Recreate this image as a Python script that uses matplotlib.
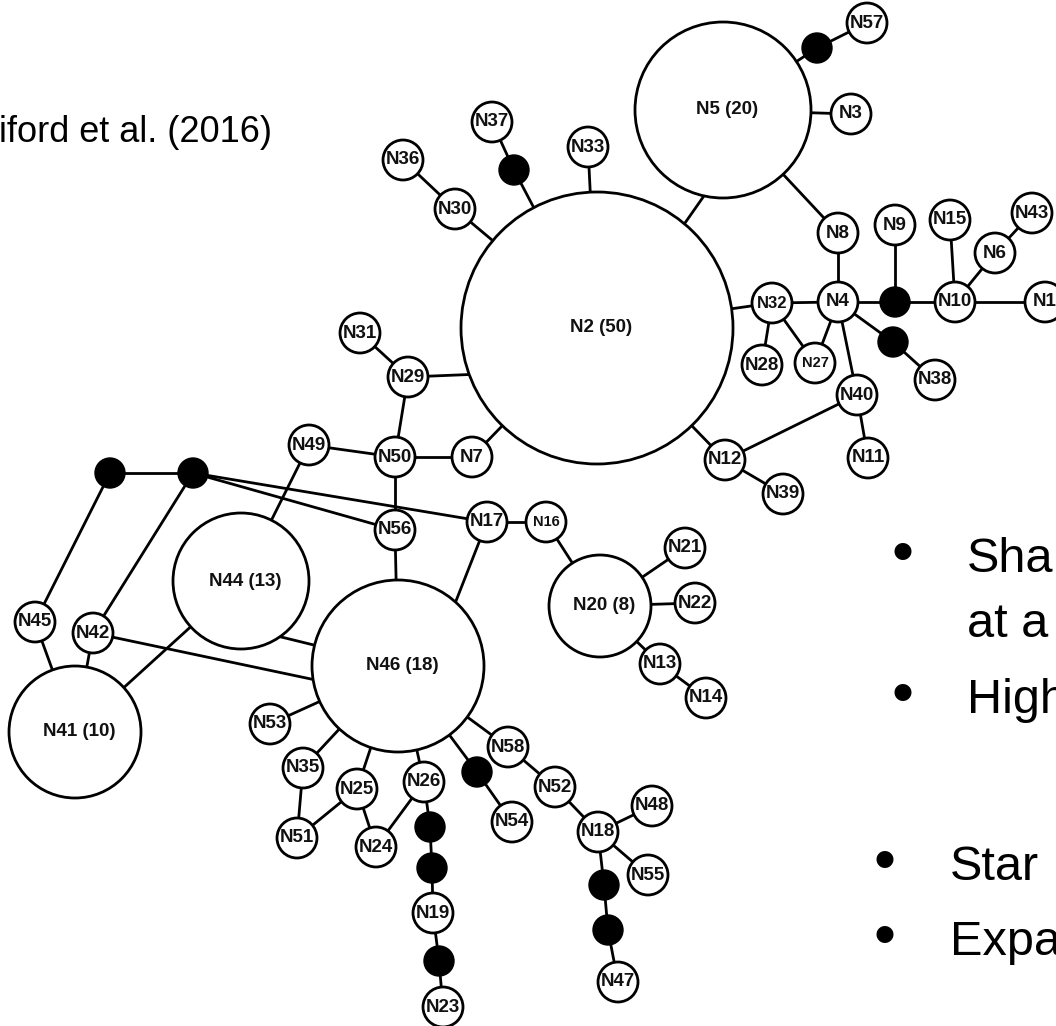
import matplotlib
matplotlib.use('Agg')
import matplotlib.pyplot as plt
from matplotlib.patches import Circle
import numpy as np

plt.rcParams['font.family'] = ['Liberation Sans', 'DejaVu Sans']

# ---- data: haplotype network (pixel layout of the figure) ----
big_names = ['N2', 'N5', 'N46', 'N44', 'N41', 'N20']
big_count = [50, 20, 18, 13, 10, 8]
big_x = [597, 723, 398, 241, 75, 600]
big_y = [328, 110, 666, 581, 732, 606]
big_r = [136, 88, 86, 68, 66, 51]

small_names = ['N1', 'N3', 'N4', 'N6', 'N7', 'N8', 'N9', 'N10', 'N11', 'N12',
               'N13', 'N14', 'N15', 'N16', 'N17', 'N18', 'N19', 'N21', 'N22', 'N23',
               'N24', 'N25', 'N26', 'N27', 'N28', 'N29', 'N30', 'N31', 'N32', 'N33',
               'N35', 'N36', 'N37', 'N38', 'N39', 'N40', 'N42', 'N43', 'N45', 'N47',
               'N48', 'N49', 'N50', 'N51', 'N52', 'N53', 'N54', 'N55', 'N56', 'N57',
               'N58']
small_x = [1045, 851, 838, 995, 472, 838, 895, 955, 868, 725,
           660, 706, 950, 546, 487, 598, 433, 685, 695, 443,
           376, 357, 424, 815, 762, 408, 455, 360, 772, 588,
           303, 403, 492, 935, 783, 857, 93, 1032, 35, 618,
           652, 309, 395, 297, 555, 270, 512, 648, 395, 867,
           508]
small_y = [302, 114, 302, 253, 457, 233, 225, 302, 458, 460,
           664, 698, 220, 522, 522, 832, 913, 548, 603, 1007,
           847, 789, 782, 363, 365, 377, 209, 333, 303, 147,
           768, 160, 122, 380, 494, 395, 633, 213, 622, 982,
           806, 445, 457, 838, 787, 724, 822, 875, 530, 23,
           747]
small_label_size = {'N27': 10.5, 'N16': 10.5, 'N32': 12}

mv_names = ['mv1', 'mv2', 'mv3', 'mv4', 'mv5', 'mv6', 'mv7', 'mv8', 'mv9', 'mv10', 'mv11', 'mv12']
mv_x = [817, 514, 895, 893, 110, 193, 477, 430, 432, 439, 604, 608]
mv_y = [48, 170, 302, 342, 473, 473, 772, 827, 868, 961, 885, 930]

edges = [
    ('N5', 'N2'), ('N5', 'mv1'), ('mv1', 'N57'), ('N5', 'N3'), ('N5', 'N8'),
    ('N2', 'mv2'), ('mv2', 'N37'), ('N2', 'N33'), ('N2', 'N30'), ('N30', 'N36'),
    ('N2', 'N29'), ('N2', 'N7'), ('N2', 'N12'), ('N2', 'N32'),
    ('N8', 'N4'), ('N32', 'N4'), ('N32', 'N28'), ('N32', 'N27'), ('N4', 'N27'),
    ('N4', 'N40'), ('N4', 'mv3'), ('mv3', 'N9'), ('mv3', 'N10'), ('N10', 'N15'),
    ('N10', 'N6'), ('N6', 'N43'), ('N10', 'N1'), ('N4', 'mv4'), ('mv4', 'N38'),
    ('N40', 'N12'), ('N40', 'N11'), ('N12', 'N39'),
    ('N29', 'N31'), ('N29', 'N50'), ('N49', 'N50'), ('N50', 'N7'), ('N50', 'N56'),
    ('N56', 'N46'), ('N49', 'N44'), ('mv5', 'mv6'), ('mv5', 'N45'), ('mv6', 'N42'),
    ('mv6', 'N17'), ('mv6', 'N56'), ('N45', 'N41'), ('N42', 'N41'), ('N44', 'N41'),
    ('N44', 'N46'), ('N42', 'N46'), ('N17', 'N16'), ('N17', 'N46'), ('N16', 'N20'),
    ('N20', 'N21'), ('N20', 'N22'), ('N20', 'N13'), ('N13', 'N14'),
    ('N46', 'N53'), ('N46', 'N35'), ('N35', 'N51'), ('N46', 'N25'), ('N25', 'N51'),
    ('N25', 'N24'), ('N46', 'N26'), ('N26', 'N24'), ('N26', 'mv8'), ('mv8', 'mv9'),
    ('mv9', 'N19'), ('N19', 'mv10'), ('mv10', 'N23'), ('N46', 'mv7'), ('mv7', 'N54'),
    ('N46', 'N58'), ('N58', 'N52'), ('N52', 'N18'), ('N18', 'N48'), ('N18', 'N55'),
    ('N18', 'mv11'), ('mv11', 'mv12'), ('mv12', 'N47'),
]
# edges attached off-centre on the large circles (angle in degrees, y down)
edge_anchor = {
    ('N5', 'N2'): (102.5, -50.0),
    ('N2', 'N29'): (160.0, None),
    ('N44', 'N46'): (55.0, 194.0),
    ('N42', 'N46'): (None, 171.0),
    ('N17', 'N46'): (None, -48.0),
}

title_text = 'iford et al. (2016)'
bullet_words = ['Sha', 'at a', 'High', 'Star', 'Expa']
bullet_has_dot = [True, False, True, True, True]

# ---- drawing ----
W, H = 1056, 1026
fig = plt.figure(figsize=(W / 100, H / 100), dpi=100)
ax = fig.add_axes([0, 0, 1, 1])
ax.set_xlim(0, W)
ax.set_ylim(H, 0)
ax.set_aspect('equal')
ax.axis('off')

LW = 2.0
SMALL_R = 20
MV_R = 15

pos = {}
rad = {}
for n, x, y, r in zip(big_names, big_x, big_y, big_r):
    pos[n] = (x, y); rad[n] = r
for n, x, y in zip(small_names, small_x, small_y):
    pos[n] = (x, y); rad[n] = SMALL_R
for n, x, y in zip(mv_names, mv_x, mv_y):
    pos[n] = (x, y); rad[n] = MV_R


def endpoint(n, ang):
    x, y = pos[n]
    if ang is None:
        return x, y
    a = np.deg2rad(ang)
    return x + rad[n] * np.cos(a), y + rad[n] * np.sin(a)


for a, b in edges:
    aa, ab = edge_anchor.get((a, b), (None, None))
    p1 = endpoint(a, aa)
    p2 = endpoint(b, ab)
    ax.plot([p1[0], p2[0]], [p1[1], p2[1]], color='black', lw=LW,
            solid_capstyle='butt', zorder=1)

for n, x, y, r, c in zip(big_names, big_x, big_y, big_r, big_count):
    ax.add_patch(Circle((x, y), r, facecolor='white', edgecolor='black', lw=LW, zorder=2))
    ax.text(x + 4, y, f'{n} ({c})', ha='center', va='center', fontsize=13.5,
            fontweight='bold', color='#111111', zorder=3)

for n, x, y in zip(small_names, small_x, small_y):
    ax.add_patch(Circle((x, y), SMALL_R, facecolor='white', edgecolor='black', lw=LW, zorder=2))
    ax.text(x, y, n, ha='center', va='center', fontsize=small_label_size.get(n, 13.5),
            fontweight='bold', color='#111111', zorder=3)

for x, y in zip(mv_x, mv_y):
    ax.add_patch(Circle((x, y), MV_R, facecolor='black', edgecolor='black', lw=1, zorder=2))

# title fragment at top-left
ax.text(-1, 142, title_text, ha='left', va='baseline', fontsize=26, color='black')

# bullet text fragments on the right
bullet_x = [902, None, 902, 885, 885]
word_x = [967, 967, 967, 950, 950]
base_y = [572, 637, 713, 880, 955]
for w, hd, bx, wx, by in zip(bullet_words, bullet_has_dot, bullet_x, word_x, base_y):
    if hd:
        ax.text(bx, by, '\u2022', ha='center', va='baseline', fontsize=45, color='black')
    ax.text(wx, by, w, ha='left', va='baseline', fontsize=35, color='black')

fig.savefig('out.png', dpi=100)
